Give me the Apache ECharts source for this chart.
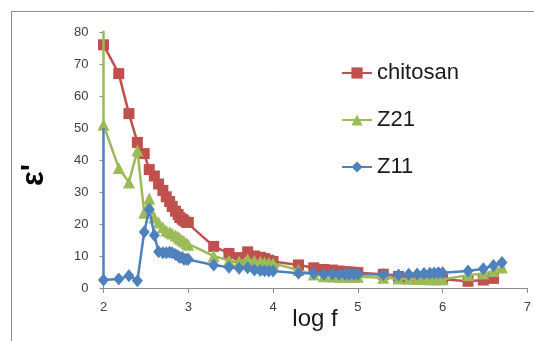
<!DOCTYPE html>
<html>
<head>
<meta charset="utf-8">
<script src="https://cdn.jsdelivr.net/npm/echarts@6/dist/echarts.min.js"></script>
<style>
  html, body { margin: 0; padding: 0; background: #ffffff; }
  #chart { width: 534px; height: 341px; }
</style>
</head>
<body>
<div id="chart"></div>
<script>
// log f values (shared by all series)
const logF = [2.00, 2.18, 2.30, 2.40, 2.48, 2.54, 2.60, 2.65, 2.70, 2.74,
              2.78, 2.81, 2.85, 2.88, 2.90, 2.93, 2.95, 2.98, 3.00,
              3.30, 3.48, 3.60, 3.70, 3.78, 3.85, 3.90, 3.95, 4.00,
              4.30, 4.48, 4.60, 4.70, 4.78, 4.85, 4.90, 4.95, 5.00,
              5.30, 5.48, 5.60, 5.70, 5.78, 5.85, 5.90, 5.95, 6.00,
              6.30, 6.48, 6.60, 6.70];

const chitosan = [76, 67, 54.5, 45.5, 42, 37, 35, 32.5, 30.5, 28.5,
                  27, 25.5, 24, 23, 22, 21.5, 21, 20.5, 20.5,
                  13, 10.8, 9.5, 11.3, 10, 9.6, 9.2, 8.7, 8.3,
                  7.2, 6.3, 5.8, 5.6, 5.3, 5.1, 5.0, 4.9, 4.8,
                  4.3, 3.6, 3.0, 2.9, 2.8, 2.7, 2.7, 2.7, 2.7,
                  2.1, 2.5, 3.0];

const z21 = [51, 37.5, 33, 43, 23.5, 28, 22, 20.5, 19, 18,
             17.5, 17, 16.5, 16, 15.5, 15, 14.5, 14, 13.5,
             10, 8.6, 8.3, 9, 8.5, 8.3, 8, 7.9, 7.7,
             5.6, 4.2, 3.7, 3.6, 3.5, 3.5, 3.5, 3.5, 3.5,
             3.2, 3.0, 2.9, 2.8, 2.8, 2.7, 2.7, 2.7, 2.7,
             4.0, 4.5, 5.3, 6.4];

const z11 = [2.5, 2.8, 3.8, 2.3, 17.5, 24.5, 16.5, 11.3, 11, 11,
             11.2, 11, 10.5, 10, 9.5, 9.5, 9, 9, 9,
             7.2, 6.5, 6.2, 6.3, 5.6, 5.5, 5.4, 5.3, 5.3,
             4.6, 4.6, 4.3, 4.4, 4.3, 4.3, 4.3, 4.3, 4.3,
             4.2, 4.1, 4.3, 4.4, 4.5, 4.6, 4.7, 4.8, 4.8,
             5.3, 6.0, 7.0, 8.0];

// first (unmarked) readings at log f = 2
const z21LeadValue = 120;
const z11LeadValue = 50;

const xTicks = [2, 3, 4, 5, 6, 7];
const yTicks = [0, 10, 20, 30, 40, 50, 60, 70, 80];

const seriesNames = ['chitosan', 'Z21', 'Z11'];
const xTitle = 'log f';
const yTitle = "ε'";

function pairs(vals) {
  return vals.map((v, i) => [logF[i], v]);
}
function withLead(lead, vals) {
  return [{ value: [logF[0], lead], symbol: 'none' }].concat(pairs(vals));
}

const chart = echarts.init(document.getElementById('chart'), null, { renderer: 'canvas' });
const FONT = 'Liberation Sans, Arial, sans-serif';

chart.setOption({
  animation: false,
  backgroundColor: '#ffffff',
  graphic: [{
    type: 'rect',
    shape: { x: 11.5, y: 11.5, width: 700, height: 500 },
    style: { fill: 'none', stroke: '#8c8c8c', lineWidth: 1 },
    z: -10
  }, {
    type: 'text',
    x: 34,
    y: 175,
    rotation: Math.PI / 2,
    style: {
      text: yTitle,
      fontFamily: FONT,
      fontSize: 31,
      fontWeight: 'bold',
      fill: '#000000',
      align: 'center',
      verticalAlign: 'middle'
    }
  }, {
    type: 'text',
    x: 315,
    y: 319,
    style: {
      text: xTitle,
      fontFamily: FONT,
      fontSize: 24,
      fill: '#1a1a1a',
      align: 'center',
      verticalAlign: 'middle'
    }
  }],
  grid: { left: 103.5, right: 3, top: 32, bottom: 53, containLabel: false },
  legend: {
    orient: 'vertical',
    left: 336,
    top: 57,
    itemWidth: 30,
    itemHeight: 14,
    itemGap: 25,
    data: seriesNames,
    textStyle: { fontFamily: FONT, fontSize: 22, color: '#1a1a1a' }
  },
  xAxis: {
    type: 'value',
    min: xTicks[0],
    max: xTicks[xTicks.length - 1],
    interval: 1,
    axisLine: { show: true, lineStyle: { color: '#8c8c8c', width: 1 } },
    axisTick: { show: true, inside: false, length: 5, lineStyle: { color: '#8c8c8c' } },
    axisLabel: { fontFamily: FONT, fontSize: 13, color: '#404040', margin: 13 },
    splitLine: { show: false }
  },
  yAxis: {
    type: 'value',
    min: yTicks[0],
    max: yTicks[yTicks.length - 1],
    interval: 10,
    axisLine: { show: true, lineStyle: { color: '#8c8c8c', width: 1 } },
    axisTick: { show: true, inside: false, length: 4, lineStyle: { color: '#8c8c8c' } },
    axisLabel: { fontFamily: FONT, fontSize: 13, color: '#404040', margin: 15 },
    splitLine: { show: false }
  },
  series: [
    {
      name: seriesNames[0],
      type: 'line',
      data: pairs(chitosan),
      color: '#C0504D',
      symbol: 'rect',
      symbolSize: 11,
      lineStyle: { width: 2.5 },
      clip: true,
      z: 2
    },
    {
      name: seriesNames[1],
      type: 'line',
      data: withLead(z21LeadValue, z21),
      color: '#9BBB59',
      symbol: 'triangle',
      symbolSize: 12,
      lineStyle: { width: 2.5 },
      clip: true,
      z: 3
    },
    {
      name: seriesNames[2],
      type: 'line',
      data: withLead(z11LeadValue, z11),
      color: '#4F81BD',
      symbol: 'diamond',
      symbolSize: [11, 13],
      lineStyle: { width: 2.5 },
      clip: true,
      z: 4
    }
  ]
});
</script>
</body>
</html>
